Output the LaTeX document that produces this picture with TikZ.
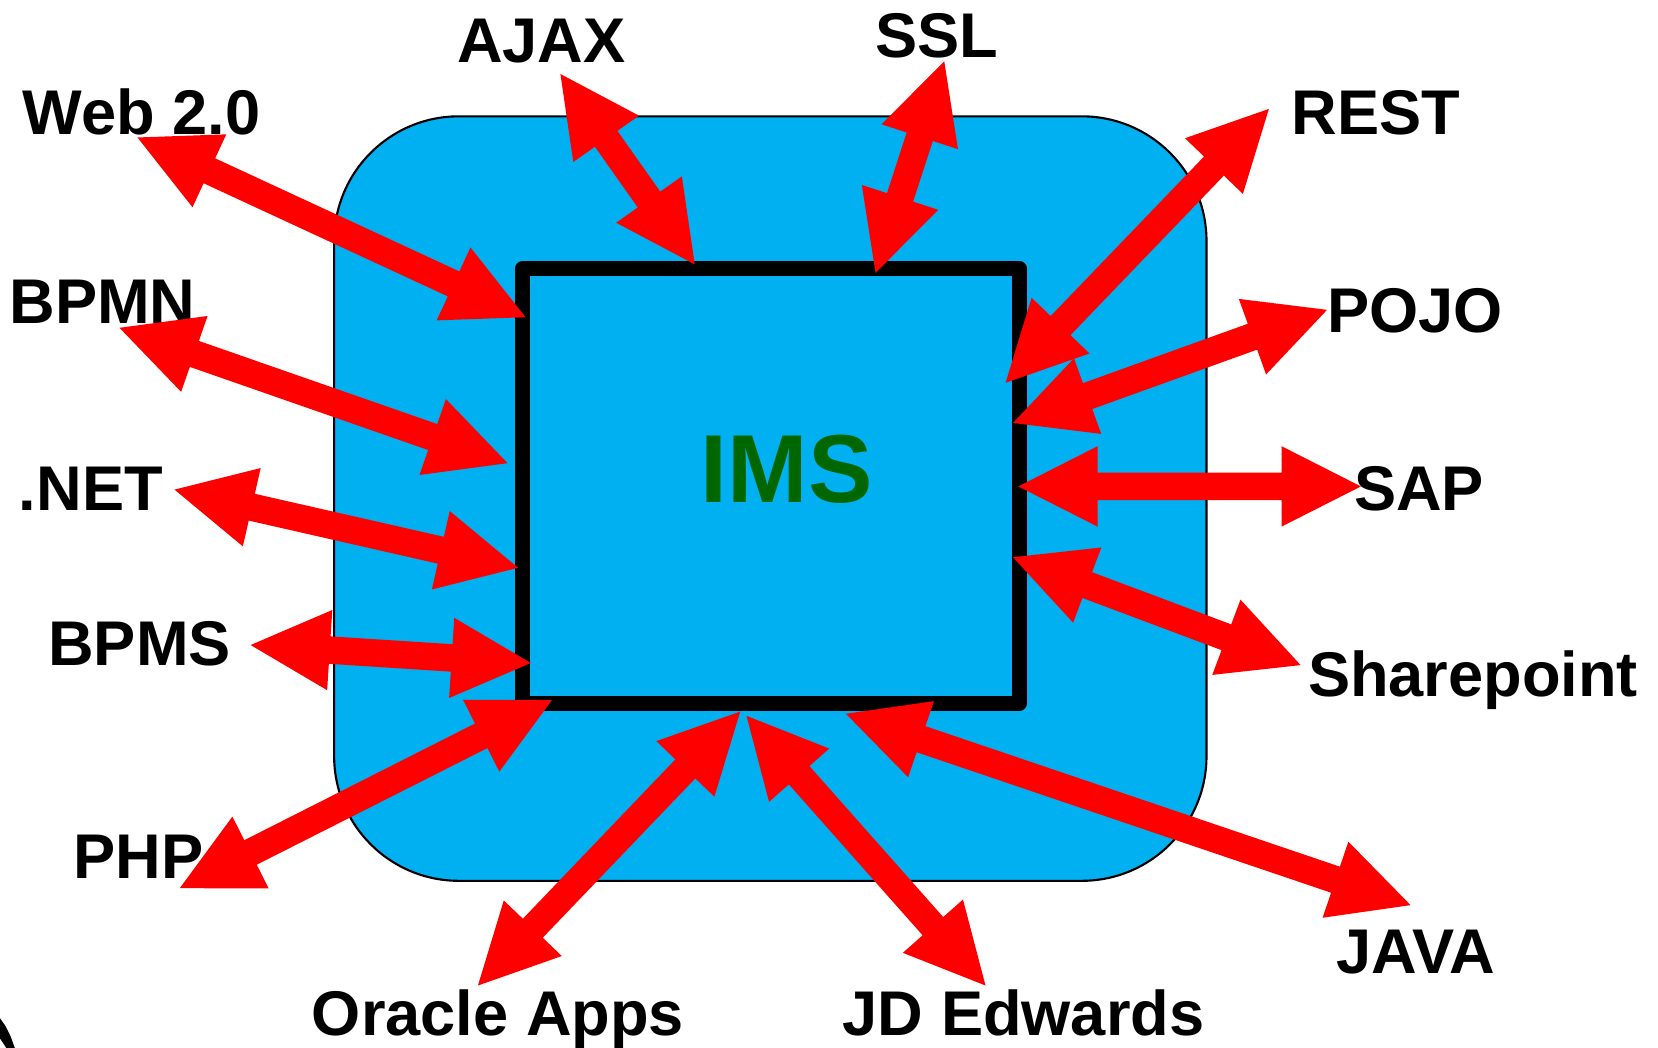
\documentclass[tikz,border=0pt]{standalone}
\usepackage{fontspec}
\setmainfont{Liberation Sans}
\usetikzlibrary{calc}
\definecolor{boxcyan}{RGB}{0,176,240}
\definecolor{imsgreen}{RGB}{0,102,0}
\definecolor{arrowred}{RGB}{255,0,0}
% double-headed block arrow between two named coordinates
\newcommand\blockarrow[2]{%
  \fill[arrowred] (#1)
    -- ($(#1)!1.5cm!(#2)!0.76cm!90:(#2)$)
    -- ($(#1)!1.5cm!(#2)!0.26cm!90:(#2)$)
    -- ($(#2)!1.5cm!(#1)!0.26cm!-90:(#1)$)
    -- ($(#2)!1.5cm!(#1)!0.76cm!-90:(#1)$)
    -- (#2)
    -- ($(#2)!1.5cm!(#1)!0.76cm!90:(#1)$)
    -- ($(#2)!1.5cm!(#1)!0.26cm!90:(#1)$)
    -- ($(#1)!1.5cm!(#2)!0.26cm!-90:(#2)$)
    -- ($(#1)!1.5cm!(#2)!0.76cm!-90:(#2)$)
    -- cycle;}
\begin{document}
\begin{tikzpicture}[x=0.02cm,y=-0.02cm,
  lab/.style={font=\bfseries\fontsize{34}{40}\selectfont, anchor=base, inner sep=0pt},
  outerbox/.style={draw=black, fill=boxcyan, line width=0.04cm, rounded corners=2.36cm},
  innerbox/.style={draw=black, fill=boxcyan, line width=0.28cm, line join=round}]
\useasboundingbox (0,0) rectangle (1568,991);
\fill[white] (0,0) rectangle (1568,991);
% corner artifact
\fill[black] (0,963) -- (5,970) -- (10,980) -- (14,991) -- (6,991) -- (0,982) -- cycle;
% boxes
\draw[outerbox] (316,110) rectangle (1141,833);
\draw[innerbox] (494,254) rectangle (964,665);
\node[font=\bfseries\fontsize{52}{60}\selectfont, text=imsgreen, anchor=base, inner sep=0pt] (ims) at (744,475) {IMS};
% labels
\node[lab] (lajax)  at (512,59)  {AJAX};
\node[lab] (lssl)   at (886,54)  {SSL};
\node[lab] (lweb)   at (134,127) {Web 2.0};
\node[lab] (lrest)  at (1301,127) {REST};
\node[lab] (lbpmn)  at (97,306)  {BPMN};
\node[lab] (lpojo)  at (1338,314) {POJO};
\node[lab] (lnet)   at (86,483)  {.NET};
\node[lab] (lsap)   at (1342,483) {SAP};
\node[lab] (lbpms)  at (132,629) {BPMS};
\node[lab] (lshare) at (1393,659) {Sharepoint};
\node[lab] (lphp)   at (131,831) {PHP};
\node[lab] (lora)   at (471,979) {Oracle Apps};
\node[lab] (ljd)    at (968,979) {JD Edwards};
\node[lab] (ljava)  at (1339,921) {JAVA};
% arrow end points
\coordinate (webA) at (130,130);   \coordinate (webB) at (497,300);
\coordinate (ajaxA) at (530,70);   \coordinate (ajaxB) at (657,250);
\coordinate (sslA) at (893,58);    \coordinate (sslB) at (828,258);
\coordinate (restA) at (1200,103); \coordinate (restB) at (951,362);
\coordinate (pojoA) at (1255,293); \coordinate (pojoB) at (958,400);
\coordinate (bpmnA) at (113,310);  \coordinate (bpmnB) at (480,438);
\coordinate (netA) at (165,463);   \coordinate (netB) at (490,537);
\coordinate (sapA) at (1287,460);  \coordinate (sapB) at (963,460);
\coordinate (bpmsA) at (237,610);  \coordinate (bpmsB) at (502,627);
\coordinate (shareA) at (1230,629);\coordinate (shareB) at (958,527);
\coordinate (phpA) at (170,840);   \coordinate (phpB) at (522,662);
\coordinate (oraA) at (452,932);   \coordinate (oraB) at (700,673);
\coordinate (jdA) at (932,932);    \coordinate (jdB) at (706,677);
\coordinate (javaA) at (1334,856); \coordinate (javaB) at (800,675);
% arrows
\blockarrow{webA}{webB}
\blockarrow{ajaxA}{ajaxB}
\blockarrow{sslA}{sslB}
\blockarrow{restA}{restB}
\blockarrow{pojoA}{pojoB}
\blockarrow{bpmnA}{bpmnB}
\blockarrow{netA}{netB}
\blockarrow{sapA}{sapB}
\blockarrow{bpmsA}{bpmsB}
\blockarrow{shareA}{shareB}
\blockarrow{phpA}{phpB}
\blockarrow{oraA}{oraB}
\blockarrow{jdA}{jdB}
\blockarrow{javaA}{javaB}
\end{tikzpicture}
\end{document}
